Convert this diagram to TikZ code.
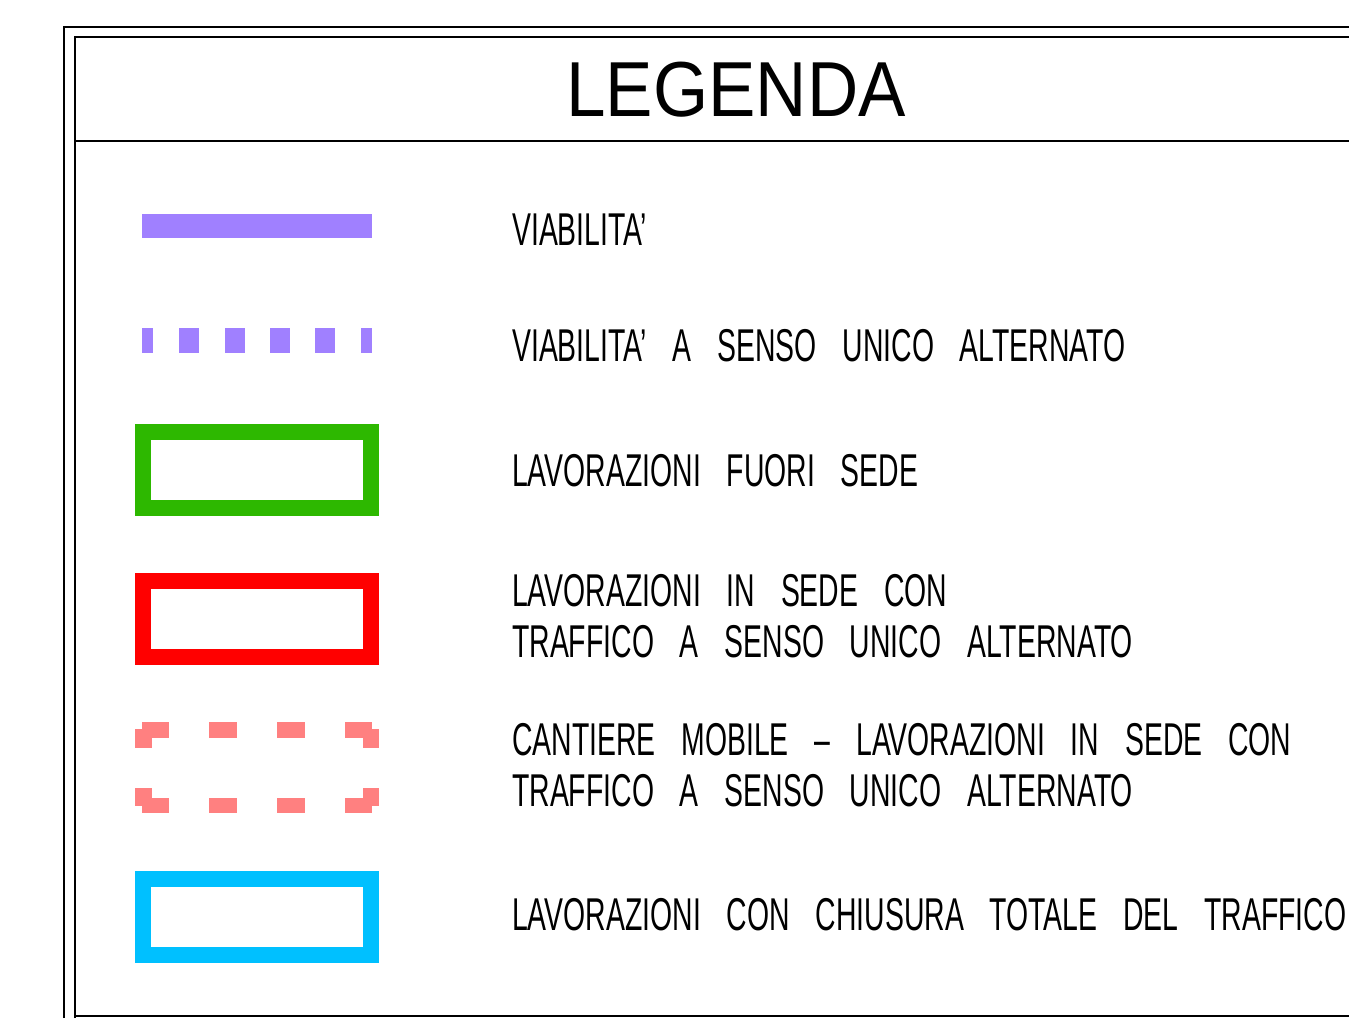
\documentclass[tikz,border=0pt]{standalone}
\usepackage{fontspec}
\setmainfont{Liberation Sans}
\newfontfamily\legfont[FakeStretch=0.617,WordSpace=3.28]{Liberation Sans}
\newfontfamily\titfont[FakeStretch=0.91]{Liberation Sans}
\definecolor{viola}{RGB}{160,128,255}
\definecolor{verde}{RGB}{45,184,0}
\definecolor{rosso}{RGB}{255,0,0}
\definecolor{rosa}{RGB}{255,128,128}
\definecolor{ciano}{RGB}{0,192,255}
\begin{document}
\begin{tikzpicture}[x=1pt,y=-1pt,
  lbl/.style={anchor=base west,inner sep=0pt,font=\legfont\fontsize{46}{51}\selectfont},
  box/.style={draw=#1,line width=16pt}]
\useasboundingbox (0,0) rectangle (1349,1018);
% frames
\draw[line width=2pt] (63.5,1018) -- (63.5,26.5) -- (1349,26.5);
\draw[line width=1.5pt] (75,1018) -- (75,37) -- (1349,37);
\draw[line width=1.5pt] (75,1016) -- (1349,1016);
\draw[line width=1.5pt] (75,141) -- (1349,141);
% title
\node[anchor=base,inner sep=0pt,font=\titfont\fontsize{78}{80}\selectfont] (title) at (736,116) {LEGENDA};
% symbols
\fill[viola] (142,214) rectangle (372,238);
\foreach \a/\b in {142/153,179/199,225/245,270/290,315/335,361/372}
  \fill[viola] (\a,328) rectangle (\b,353);
\draw[box=verde] (143,432) rectangle (371,508);
\draw[box=rosso] (143,581) rectangle (371,657);
\draw[box=ciano] (143,879) rectangle (371,955);
% pink dashed
\begin{scope}[fill=rosa]
\fill (142,722) rectangle (169,738);
\fill (135,729) rectangle (152,748);
\fill (345,722) rectangle (372,738);
\fill (363,729) rectangle (379,748);
\fill (135,788) rectangle (152,806);
\fill (142,798) rectangle (169,813);
\fill (363,788) rectangle (379,806);
\fill (345,798) rectangle (372,813);
\foreach \a/\b in {209/237,277/305}{
  \fill (\a,722) rectangle (\b,738);
  \fill (\a,798) rectangle (\b,813);}
\end{scope}
% labels
\node[lbl] (t1) at (512,245) {VIABILITA’};
\node[lbl] (t2) at (512,361) {VIABILITA’ A SENSO UNICO ALTERNATO};
\node[lbl] (t3) at (512,486) {LAVORAZIONI FUORI SEDE};
\node[lbl] (t4a) at (512,606) {LAVORAZIONI IN SEDE CON};
\node[lbl] (t4b) at (512,657) {TRAFFICO A SENSO UNICO ALTERNATO};
\node[lbl] (t5a) at (512,755) {CANTIERE MOBILE – LAVORAZIONI IN SEDE CON};
\node[lbl] (t5b) at (512,806) {TRAFFICO A SENSO UNICO ALTERNATO};
\node[lbl] (t6) at (512,930) {LAVORAZIONI CON CHIUSURA TOTALE DEL TRAFFICO};
\end{tikzpicture}
\end{document}
